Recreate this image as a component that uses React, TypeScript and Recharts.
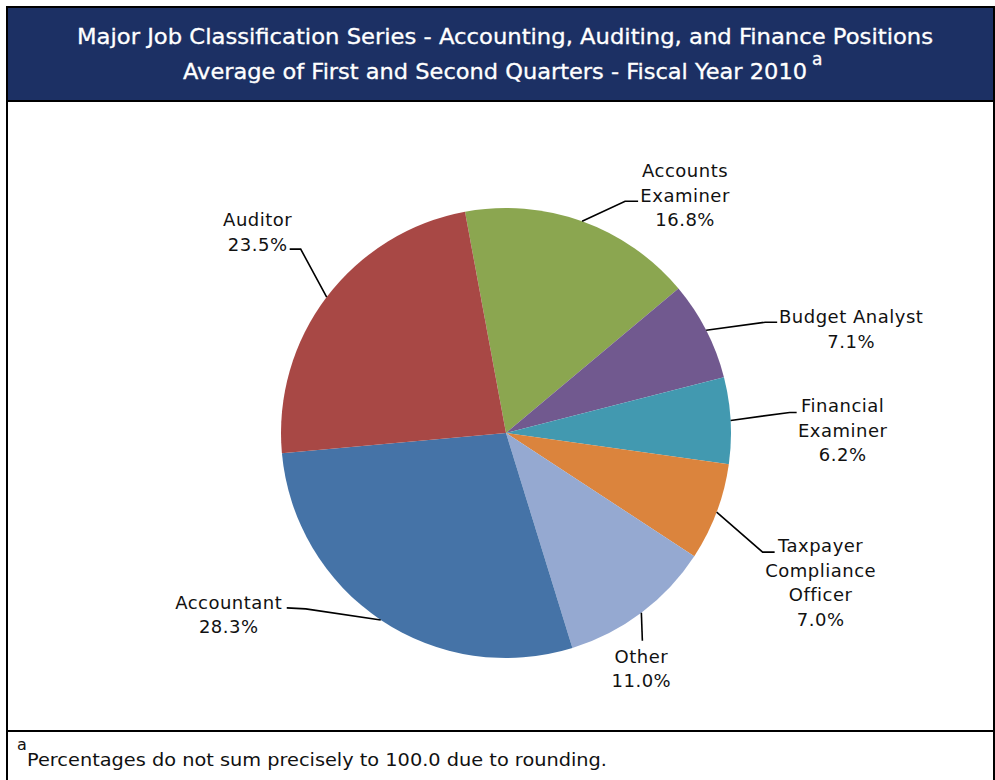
import { PieChart, Pie, Cell } from 'recharts';

const categories = [
  'Accounts Examiner',
  'Budget Analyst',
  'Financial Examiner',
  'Taxpayer Compliance Officer',
  'Other',
  'Accountant',
  'Auditor',
];
const shares = [16.8, 7.1, 6.2, 7.0, 11.0, 28.3, 23.5];
const labelRows = [
  ['Accounts', 'Examiner'],
  ['Budget Analyst'],
  ['Financial', 'Examiner'],
  ['Taxpayer', 'Compliance', 'Officer'],
  ['Other'],
  ['Accountant'],
  ['Auditor'],
];
const sliceColors = ['#8BA650', '#71598F', '#4299B0', '#DB843D', '#95A9D1', '#4573A7', '#A84845'];

const data = categories.map((name, i) => ({ name, value: shares[i] }));

// label placement, relative to the point where the leader leaves the slice edge:
// elbow / end of the leader, text centre and first baseline
const labelLayout = [
  { ex: 43, ey: -20, ax: 56, ay: -20, tx: 103, ty: -44 },
  { ex: 59, ey: -8, ax: 71, ay: -8, tx: 145, ty: -7 },
  { ex: 59, ey: -8, ax: 66, ay: -8, tx: 112, ty: -8 },
  { ex: 46, ey: 40, ax: 58, ay: 40, tx: 104, ty: 40 },
  { ex: 1, ey: 28, ax: 1, ay: 28, tx: 0, ty: 50 },
  { ex: -75, ey: -11, ax: -94, ay: -12, tx: -152, ty: -11 },
  { ex: -26, ey: -48, ax: -37, ay: -48, tx: -69, ty: -71 },
];

const RADIAN = Math.PI / 180;
const LINE_H = 24.5;

const renderLabel = (props: any) => {
  const { cx, cy, midAngle, outerRadius, index, value } = props;
  const x0 = cx + outerRadius * Math.cos(-midAngle * RADIAN);
  const y0 = cy + outerRadius * Math.sin(-midAngle * RADIAN);
  const l = labelLayout[index];
  const rows = [...labelRows[index], `${Number(value).toFixed(1)}%`];
  return (
    <g key={`lbl-${index}`}>
      <polyline
        points={`${x0},${y0} ${x0 + l.ex},${y0 + l.ey} ${x0 + l.ax},${y0 + l.ay}`}
        fill="none"
        stroke="#000"
        strokeWidth={1.6}
      />
      <text
        x={x0 + l.tx}
        y={y0 + l.ty}
        textAnchor="middle"
        fill="#111"
        fontFamily="'DejaVu Sans', sans-serif"
        fontSize={18}
        letterSpacing={0.5}
      >
        {rows.map((r, k) => (
          <tspan key={k} x={x0 + l.tx} y={y0 + l.ty + k * LINE_H}>
            {r}
          </tspan>
        ))}
      </text>
    </g>
  );
};

export default function App() {
  return (
    <div style={{ position: 'absolute', left: 0, top: 0, width: 995, height: 780, overflow: 'hidden', background: '#fff' }}>
      <div
        style={{
          position: 'absolute',
          left: 6,
          top: 6,
          width: 989,
          height: 800,
          border: '2px solid #000',
          boxSizing: 'border-box',
        }}
      >
        <svg width={985} height={94} style={{ display: 'block' }}>
          <rect x={0} y={0} width={985} height={92} fill="#1C3064" />
          <rect x={0} y={92} width={985} height={2} fill="#000" />
          <g fill="#fff" fontFamily="'DejaVu Sans', sans-serif" fontSize={21} stroke="#fff" strokeWidth={0.3}>
            <text x={69} y={36} textLength={856} lengthAdjust="spacingAndGlyphs">
              Major Job Classification Series - Accounting, Auditing, and Finance Positions
            </text>
            <text x={175} y={71} textLength={624} lengthAdjust="spacingAndGlyphs">
              Average of First and Second Quarters - Fiscal Year 2010
            </text>
            <text x={804} y={57} fontSize={17}>
              a
            </text>
          </g>
        </svg>
        <PieChart width={985} height={628} margin={{ top: 0, right: 0, bottom: 0, left: 0 }}>
          <Pie
            data={data}
            dataKey="value"
            nameKey="name"
            cx={498}
            cy={331}
            outerRadius={225}
            startAngle={100.5}
            endAngle={-259.5}
            stroke="none"
            label={renderLabel}
            labelLine={false}
            isAnimationActive={false}
          >
            {data.map((d, i) => (
              <Cell key={d.name} fill={sliceColors[i]} />
            ))}
          </Pie>
        </PieChart>
        <svg width={985} height={60} style={{ display: 'block' }}>
          <rect x={0} y={0} width={985} height={2} fill="#000" />
          <g fill="#111" fontFamily="'DejaVu Sans', sans-serif">
            <text x={9} y={20} fontSize={16}>
              a
            </text>
            <text x={19} y={36} fontSize={17} textLength={580} lengthAdjust="spacingAndGlyphs">
              Percentages do not sum precisely to 100.0 due to rounding.
            </text>
          </g>
        </svg>
      </div>
    </div>
  );
}
